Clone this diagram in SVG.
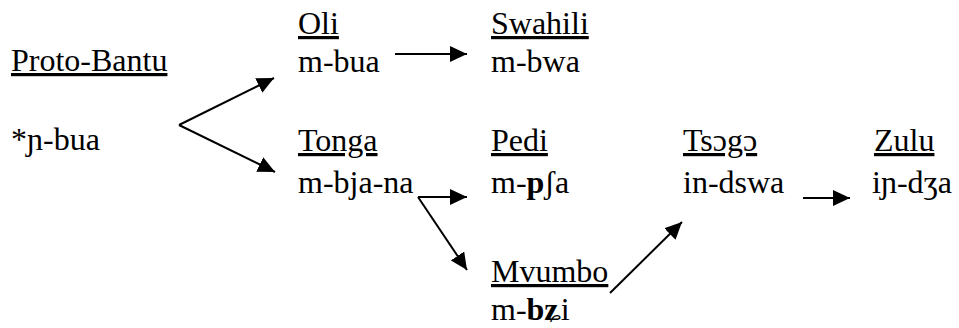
<svg xmlns="http://www.w3.org/2000/svg" width="959" height="328" viewBox="0 0 959 328">
<style>
.t{font-size:32px;fill:#000}
.u{text-decoration:underline}
.c{stroke:#000;stroke-width:2;fill:none}
.b{font-weight:bold}
</style>
<defs>
<marker id="ah" markerUnits="userSpaceOnUse" markerWidth="18" markerHeight="16" refX="17" refY="8" orient="auto">
<path d="M0,0 L17,8 L0,16 Z" fill="#000"/>
</marker>
</defs>
<rect width="959" height="328" fill="#fff"/>
<g class="t" font-family="'Liberation Serif', 'DejaVu Serif', serif">
<g id="proto-bantu"><text x="11" y="71" class="u">Proto-Bantu</text><text x="11" y="150">*ɲ-bua</text></g>
<g id="oli"><text x="298" y="34" class="u">Oli</text><text x="298" y="72">m-bua</text></g>
<g id="swahili"><text x="491" y="34" class="u">Swahili</text><text x="491" y="72">m-bwa</text></g>
<g id="tonga"><text x="298" y="151" class="u">Tonga</text><text x="298" y="193">m-bja-na</text></g>
<g id="pedi"><text x="491" y="151" class="u">Pedi</text><text x="491" y="193">m-<tspan class="b">p</tspan>ʃa</text></g>
<g id="mvumbo"><text x="491" y="282" class="u">Mvumbo</text><text x="491" y="320">m-<tspan class="b">bʑ</tspan>i</text></g>
<g id="tsogo"><text x="683" y="151" class="u">Tsɔgɔ</text><text x="683" y="193">in-dswa</text></g>
<g id="zulu"><text x="874" y="151" class="u">Zulu</text><text x="872" y="193">iɲ-dʒa</text></g>
</g>
<g id="connectors">
<line class="c" x1="179" y1="125" x2="274" y2="78" marker-end="url(#ah)"/>
<line class="c" x1="179" y1="125" x2="275" y2="172" marker-end="url(#ah)"/>
<line class="c" x1="395" y1="54" x2="467" y2="54" marker-end="url(#ah)"/>
<line class="c" x1="418" y1="197" x2="467" y2="197" marker-end="url(#ah)"/>
<line class="c" x1="418" y1="197" x2="467" y2="270" marker-end="url(#ah)"/>
<line class="c" x1="610" y1="293" x2="682" y2="222" marker-end="url(#ah)"/>
<line class="c" x1="803" y1="198" x2="850" y2="198" marker-end="url(#ah)"/>
</g>
</svg>
